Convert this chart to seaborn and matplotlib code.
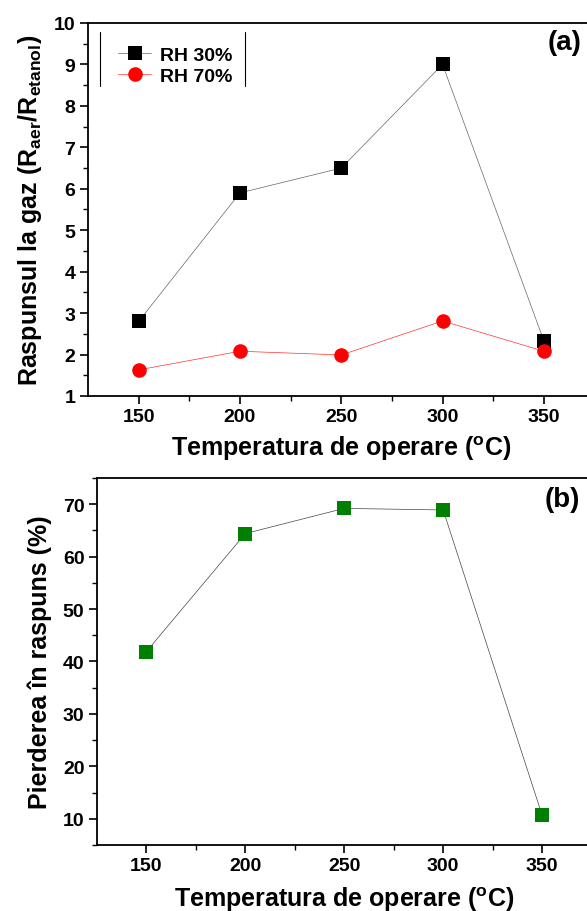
import pandas as pd
import seaborn as sns
import matplotlib.pyplot as plt

# operating temperatures (C)
temps = [150, 200, 250, 300, 350]

# gas response R_aer / R_etanol
rh30 = [2.8, 5.9, 6.5, 9.0, 2.33]
rh70 = [1.63, 2.08, 1.99, 2.81, 2.08]

# response loss (%)
loss = [41.9, 64.4, 69.2, 68.9, 10.7]

sns.set_style('ticks')
plt.rcParams['font.family'] = ['Liberation Sans', 'DejaVu Sans']
plt.rcParams['font.weight'] = 'bold'
plt.rcParams['text.color'] = 'black'
plt.rcParams['axes.labelcolor'] = 'black'
plt.rcParams['xtick.color'] = 'black'
plt.rcParams['ytick.color'] = 'black'
plt.rcParams['mathtext.fontset'] = 'custom'
plt.rcParams['mathtext.rm'] = 'Liberation Sans:bold'
plt.rcParams['mathtext.it'] = 'Liberation Sans:bold'
plt.rcParams['mathtext.bf'] = 'Liberation Sans:bold'
plt.rcParams['mathtext.default'] = 'rm'

df_a = pd.DataFrame({
    'temp': temps * 2,
    'val': rh30 + rh70,
    'serie': ['RH 30%'] * len(temps) + ['RH 70%'] * len(temps),
})
df_b = pd.DataFrame({'temp': temps, 'val': loss})

fig = plt.figure(figsize=(5.87, 9.12), dpi=100)
ax1 = fig.add_axes([0.1499, 0.5647, 0.8629, 0.409])
ax2 = fig.add_axes([0.1652, 0.0724, 0.8425, 0.4024])

# panel (a)
for serie, mk, col, lc, ms in [('RH 30%', 's', 'black', '#666666', 9.5),
                               ('RH 70%', 'o', 'red', '#ff3333', 10.5)]:
    sub = df_a[df_a['serie'] == serie]
    sns.lineplot(data=sub, x='temp', y='val', ax=ax1, color=lc, linewidth=0.5,
                 marker=mk, markersize=ms, markerfacecolor=col,
                 markeredgecolor=col, markeredgewidth=0, label=serie)

ax1.set_xlim(125, 375)
ax1.set_ylim(1, 10)
ax1.set_xticks(temps)
ax1.set_xticks([175, 225, 275, 325, 375], minor=True)
ax1.set_yticks(range(1, 11))
ax1.set_yticks([x + 0.5 for x in range(1, 10)], minor=True)
ax1.set_xlabel('Temperatura de operare ($^{o}$C)', fontsize=18, fontweight='bold', labelpad=6)
ax1.set_ylabel('Raspunsul la gaz (R$_{aer}$/R$_{etanol}$)', fontsize=18, fontweight='bold', labelpad=7)
ax1.text(0.908, 0.949, '(a)', transform=ax1.transAxes, fontsize=20, fontweight='bold',
         ha='left', va='center')
leg = ax1.legend(loc='upper left', bbox_to_anchor=(0.025, 0.985), frameon=False,
                 fontsize=14, handlelength=1.7, handletextpad=0.45, labelspacing=0.2)
for t in leg.get_texts():
    t.set_fontweight('bold')
# Origin-style legend box: only the side edges are drawn
ax1.plot([0.024, 0.024], [0.831, 0.976], transform=ax1.transAxes, color='black', linewidth=0.8)
ax1.plot([0.31, 0.31], [0.831, 0.976], transform=ax1.transAxes, color='black', linewidth=0.8)

# panel (b)
sns.lineplot(data=df_b, x='temp', y='val', ax=ax2, color='#444444', linewidth=0.5,
             marker='s', markersize=9.5, markerfacecolor='#008000',
             markeredgecolor='#008000', markeredgewidth=0)
ax2.set_xlim(125, 375)
ax2.set_ylim(5, 75)
ax2.set_xticks(temps)
ax2.set_xticks([175, 225, 275, 325, 375], minor=True)
ax2.set_yticks(range(10, 71, 10))
ax2.set_yticks(range(5, 76, 10), minor=True)
ax2.set_xlabel('Temperatura de operare ($^{o}$C)', fontsize=18, fontweight='bold', labelpad=7)
ax2.set_ylabel('Pierderea în raspuns (%)', fontsize=18, fontweight='bold', labelpad=8)
ax2.text(0.905, 0.943, '(b)', transform=ax2.transAxes, fontsize=20, fontweight='bold',
         ha='left', va='center')

for ax in (ax1, ax2):
    for s in ax.spines.values():
        s.set_linewidth(1.3)
        s.set_color('black')
    ax.tick_params(which='major', direction='out', length=6, width=1.2, labelsize=14, pad=3,
                   colors='black')
    ax.tick_params(which='minor', direction='out', length=3.5, width=1.0, colors='black')
    for lab in ax.get_xticklabels() + ax.get_yticklabels():
        lab.set_fontweight('bold')

fig.savefig('out.png', dpi=100)
